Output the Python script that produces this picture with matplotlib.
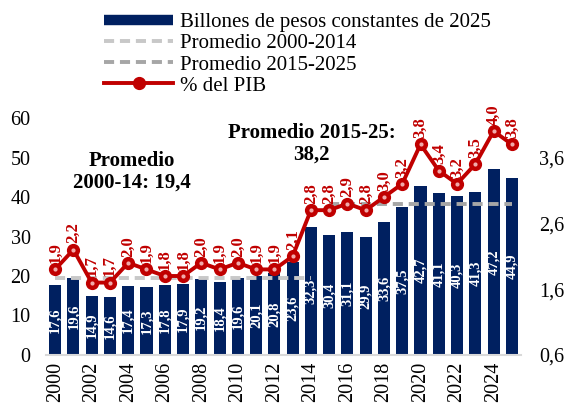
import matplotlib.pyplot as plt
import matplotlib.ticker as mticker
from matplotlib.lines import Line2D
import numpy as np

# datos
years = list(range(2000, 2026))
billones = [17.6, 19.6, 14.9, 14.6, 17.4, 17.3, 17.8, 17.9, 19.2, 18.4, 19.6, 20.1, 20.8,
            23.6, 32.3, 30.4, 31.1, 29.9, 33.6, 37.5, 42.7, 41.1, 40.3, 41.3, 47.2, 44.9]
pct_pib = [1.9, 2.2, 1.7, 1.7, 2.0, 1.9, 1.8, 1.8, 2.0, 1.9, 2.0, 1.9, 1.9, 2.1,
           2.8, 2.8, 2.9, 2.8, 3.0, 3.2, 3.8, 3.4, 3.2, 3.5, 4.0, 3.8]
prom_1 = 19.4   # 2000-2014
prom_2 = 38.2   # 2015-2025

NAVY = '#002060'
RED = '#C00000'
GRAY1 = '#C8C8C8'
GRAY2 = '#A6A6A6'
DASH = (0, (2.6, 1.5))
plt.rcParams['font.family'] = ['Liberation Serif', 'DejaVu Serif']

fig = plt.figure(figsize=(5.68, 4.12), dpi=100)
ax = fig.add_axes([46 / 568, 57 / 412, 475 / 568, 237 / 412])
ax2 = ax.twinx()

x = np.arange(len(years))
ax.bar(x, billones, width=0.66, color=NAVY, zorder=2)
for xi, v in zip(x, billones):
    ax.text(xi, v / 2, f'{v:.1f}'.replace('.', ','), rotation=90, ha='center', va='center',
            color='white', fontsize=10.5, fontweight='bold', zorder=3)

# promedios
i1 = years.index(2014)
i2 = years.index(2015)
ax.plot(x[:i1 + 1], [prom_1] * (i1 + 1), color=GRAY1, lw=2.8, ls=DASH, zorder=4)
ax.plot(x[i2:], [prom_2] * (len(x) - i2), color=GRAY2, lw=2.8, ls=DASH, zorder=4)

ax2.plot(x, pct_pib, color=RED, lw=2.8, marker='o', ms=8.5, mfc=RED, mec=RED, zorder=5)
ax2.plot(x, pct_pib, ls='none', marker='o', ms=3, mfc='#F0AAAA', mec='none', zorder=6)
for xi, v in zip(x, pct_pib):
    ax2.annotate(f'{v:.1f}'.replace('.', ','), (xi, v), xytext=(0, 4.5), textcoords='offset points',
                 rotation=90, ha='center', va='bottom', color=RED, fontsize=12, fontweight='bold')

ax.set_xlim(-0.5, len(x) - 0.5)
ax.set_ylim(0, 60)
ax2.set_ylim(0.6, 4.2)
ax.set_yticks(range(0, 61, 10))
ax2.set_yticks([0.6, 1.6, 2.6, 3.6])
ax2.yaxis.set_major_formatter(mticker.FuncFormatter(lambda v, p: f'{v:.1f}'.replace('.', ',')))
ax.set_xticks(x[::2])
ax.set_xticklabels([str(y) for y in years[::2]], rotation=90)

for a in (ax, ax2):
    for s in ('top', 'right', 'left', 'bottom'):
        a.spines[s].set_visible(False)
    a.tick_params(length=0, labelsize=14.5)
ax.spines['bottom'].set_visible(True)
ax.spines['bottom'].set_color('#D9D9D9')
ax.spines['bottom'].set_linewidth(1.5)
ax.tick_params(axis='x', pad=5)
ax2.tick_params(axis='y', pad=13)
ax.tick_params(axis='y', pad=11)

ax.text(4.2, 46.3, 'Promedio\n2000-14: 19,4', ha='center', va='center', fontsize=15,
        fontweight='bold', linespacing=1.1)
ax.text(14.05, 53.5, 'Promedio 2015-25:\n38,2', ha='center', va='center', fontsize=15,
        fontweight='bold', linespacing=1.1)

handles = [Line2D([], [], color=NAVY, lw=7.5, solid_capstyle='butt'),
           Line2D([], [], color=GRAY1, lw=2.8, ls=DASH),
           Line2D([], [], color=GRAY2, lw=2.8, ls=DASH),
           Line2D([], [], color=RED, lw=2.8, marker='o', ms=8.5)]
labels = ['Billones de pesos constantes de 2025', 'Promedio 2000-2014',
          'Promedio 2015-2025', '% del PIB']
leg = fig.legend(handles, labels, loc='upper left', bbox_to_anchor=(98 / 568, 0.985), frameon=False,
                 fontsize=15, handlelength=3.3, handletextpad=0.35, labelspacing=0.08,
                 borderpad=0.3, borderaxespad=0)
fig.savefig('out.png', dpi=100)
